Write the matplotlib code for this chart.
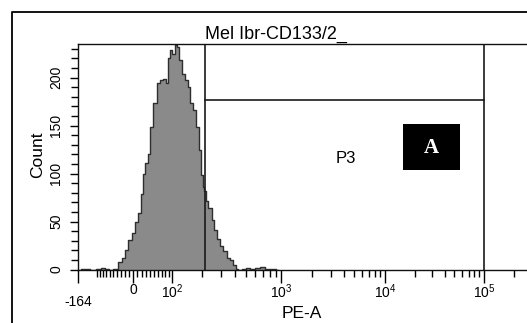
import numpy as np
import matplotlib
matplotlib.use("Agg")
import matplotlib.pyplot as plt
from matplotlib.patches import Rectangle
from matplotlib.lines import Line2D
from matplotlib import transforms

plt.rcParams['font.family'] = ['Liberation Sans', 'DejaVu Sans']
plt.rcParams['mathtext.fontset'] = 'custom'
plt.rcParams['mathtext.rm'] = 'Liberation Sans'
plt.rcParams['mathtext.it'] = 'Liberation Sans'
plt.rcParams['mathtext.bf'] = 'Liberation Sans:bold'
plt.rcParams['mathtext.default'] = 'regular'

# ---------------- data ----------------
title = "Mel Ibr-CD133/2_"
x_label = "PE-A"
y_label = "Count"
gate_name = "P3"
panel_tag = "A"

pe_values = [-164, -138, -128, -115, -90, -80, -68, -59, -45, -32, -24, -15.5, -7.3,
             0.7, 8.4, 14.3, 19.8, 25.1, 31.5, 37.0, 43.5, 51.8, 60.4, 69.6, 79.0,
             84.0, 88.6, 96.8, 104, 110, 117.5, 124, 132, 143, 149, 161, 171, 181,
             195, 199, 206, 214, 222, 238, 255, 264, 283, 304, 326, 348, 373, 399,
             413, 442, 469, 519, 563, 621, 686, 773, 870, 942]
counts = [0, 1, 1, 0, 1, 2, 1, 0, 1, 8, 12, 20, 31,
          38, 50, 59, 79, 100, 111, 120, 149, 173, 194, 197, 199,
          194, 220, 229, 225, 234, 232, 218, 204, 197, 190, 173, 166, 149,
          125, 98, 86, 82, 71, 64, 52, 41, 32, 24, 19, 12, 10, 5,
          1, 0, 1, 2, 1, 2, 3, 1, 1, 0]

gate_low = 214
gate_high = 1e5
gate_level = 177
gate_label_pos = (4200, 116)

x_min = -164
x_max = 3.0e5
y_min, y_max = 0, 235

major_x = [0, 100, 1000, 1e4, 1e5]
major_x_labels = ['0', '$10^2$', '$10^3$', '$10^4$', '$10^5$']
minor_x = (list(range(-100, 0, 10)) + list(range(10, 100, 10))
           + [k * 10 ** e for e in (2, 3, 4) for k in range(2, 10)] + [2e5])
y_major = [0, 50, 100, 150, 200]
y_minor = list(range(0, 240, 10))

# ---------------- biexponential-like display scale ----------------
KV = np.array([-1000, -164, -100, 0, 100, 200, 1000, 1e4, 1e5, 262143, 1e6])
KP = np.array([20, 78, 97, 133, 172, 202, 281, 385, 484, 526, 584], float)
KU = np.arcsinh(KV / 100.0)


def fwd(v):
    return np.interp(np.arcsinh(np.asarray(v, float) / 100.0), KU, KP)


def inv(p):
    return 100.0 * np.sinh(np.interp(np.asarray(p, float), KP, KU))


W, H = 527, 323
fig = plt.figure(figsize=(W / 100, H / 100), dpi=100)
fig.patch.set_facecolor('white')

left_px = float(fwd(x_min))
right_px = float(fwd(x_max))
top_px, bot_px = 44.0, 269.5
ax = fig.add_axes([left_px / W, 1 - bot_px / H, (right_px - left_px) / W, (bot_px - top_px) / H])
ax.set_xscale('function', functions=(fwd, inv))
ax.set_xlim(x_min, x_max)
ax.set_ylim(y_min, y_max)

# histogram
ax.fill_between(pe_values, counts, step='mid', facecolor='#8a8a8a', edgecolor='none', lw=0)
ax.step(pe_values, counts, where='mid', color='#2e2e2e', lw=1.0)

# gate P3
gc = '#1a1a1a'
ax.axvline(gate_low, color=gc, lw=1.2)
ax.axvline(gate_high, color=gc, lw=1.2)
ax.plot([gate_low, gate_high], [gate_level, gate_level], color=gc, lw=1.2)
ax.text(*gate_label_pos, gate_name, ha='center', va='center', fontsize=12)

# spines
for s in ('left', 'top', 'bottom'):
    ax.spines[s].set_linewidth(1.0)
    ax.spines[s].set_color('#111111')
ax.spines['right'].set_visible(False)

# ticks
ax.set_xticks([x_min] + major_x)
ax.set_xticklabels([''] + major_x_labels, fontsize=10)
ax.set_xticks(minor_x, minor=True)
ax.tick_params(axis='x', which='major', length=9, width=1.0, pad=0.5, direction='out')
ax.tick_params(axis='x', which='minor', length=5, width=1.0, direction='out')
ax.set_yticks(y_major)
ax.set_yticklabels([str(v) for v in y_major], rotation=90, va='center', fontsize=10)
ax.set_yticks(y_minor, minor=True)
ax.tick_params(axis='y', which='major', length=6, width=1.0, pad=4.5, direction='out')
ax.tick_params(axis='y', which='minor', length=5, width=1.0, direction='out')

tr = transforms.blended_transform_factory(ax.transData, ax.transAxes)
ax.text(x_min, -(302 - bot_px) / (bot_px - top_px), '-164', transform=tr,
        ha='center', va='center', fontsize=10)

# labels and title
fig.text(38 / W, 1 - 155 / H, y_label, rotation=90, ha='center', va='center', fontsize=12.5)
fig.text(302 / W, 1 - 313 / H, x_label, ha='center', va='center', fontsize=12.5)
fig.text(276 / W, 1 - 34 / H, title, ha='center', va='center', fontsize=13)

# outer frame
fig.add_artist(Line2D([12 / W, 12 / W, 1.01], [-0.01, 1 - 12 / H, 1 - 12 / H],
                      transform=fig.transFigure, color='black', lw=1.3))

# panel tag box
fig.add_artist(Rectangle((403 / W, 1 - 170 / H), 57 / W, 46 / H, transform=fig.transFigure,
                         facecolor='black', edgecolor='none'))
fig.text(431.5 / W, 1 - 148 / H, panel_tag, ha='center', va='center', color='white',
         fontsize=15, fontweight='bold', family='Liberation Serif')

fig.savefig('out.png', dpi=100)
